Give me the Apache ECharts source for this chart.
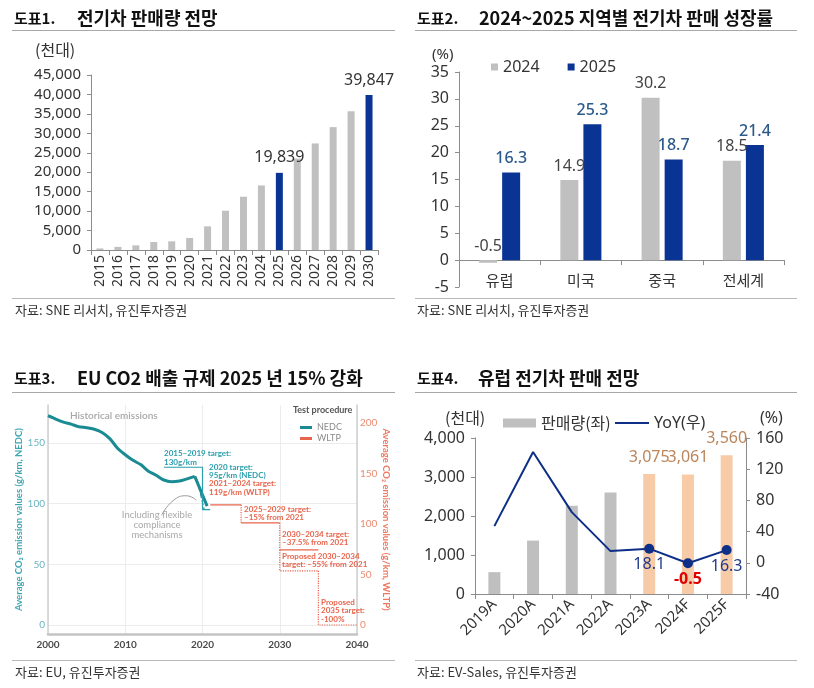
<!DOCTYPE html>
<html><head><meta charset="utf-8">
<script src="https://cdn.jsdelivr.net/npm/echarts@6/dist/echarts.min.js"></script>
<style>html,body{margin:0;padding:0;background:#fff}#c{width:814px;height:688px}</style>
</head><body><div id="c"></div>
<script>
// ---------- Panel 1: 전기차 판매량 전망 (천대)
const years = ['2015','2016','2017','2018','2019','2020','2021','2022','2023','2024','2025','2026','2027','2028','2029','2030'];
const evSales = [400, 800, 1200, 2050, 2230, 3100, 6080, 10100, 13700, 16600, 19839, 23500, 27400, 31600, 35700, 39847];
const evHighlight = ['2025', '2030'];

// ---------- Panel 2: 2024~2025 지역별 전기차 판매 성장률 (%)
const regions = ['유럽', '미국', '중국', '전세계'];
const growth2024 = [-0.5, 14.9, 30.2, 18.5];
const growth2025 = [16.3, 25.3, 18.7, 21.4];

// ---------- Panel 3: EU CO2 규제 (g/km)
const histYears = [2000,2001,2002,2003,2004,2005,2006,2007,2008,2009,2010,2011,2012,2013,2014,2015,2016,2017,2018,2019];
const histCO2 = [172.5,169.7,167.2,165.5,163.4,162.6,161.3,158.7,153.6,145.7,140.3,135.7,132.2,126.7,123.4,119.5,118.1,118.6,120.4,122.5];
const dropSegment = [[2019, 122.5], [2020.6, 98]];
const complianceSegment = [[2019.3, 120], [2020.2, 95.5]];
const nedcTarget = [[2015, 130], [2020, 130], [2020, 95], [2021, 95]];
const wltpSteps = [[2021, 2025, 119], [2025, 2030, 101.2], [2030, 2035, 74.4]];
const wltpProposed = [[2030, 2035, 53.6], [2035, 2040, 0]];
const arrowCurve = [[2014.7, 90.5], [2016.2, 102.5], [2017.9, 106.5], [2019.2, 103]];

// ---------- Panel 4: 유럽 전기차 판매 전망
const euCats = ['2019A', '2020A', '2021A', '2022A', '2023A', '2024F', '2025F'];
const euSales = [560, 1370, 2260, 2600, 3075, 3061, 3560];
const euYoY = [47, 142, 65, 15, 18.1, -0.5, 16.3];
const euHighlightFrom = '2023A';

const KR = '"Noto Sans CJK KR", sans-serif';
const NUM = '"Noto Sans", "Noto Sans CJK KR", sans-serif';
const EN3 = 'Lato, "Open Sans", sans-serif';
const GRAY = '#c0c0c0', BLUE = '#0a3494', TEAL = '#1a8b93', TEAL2 = '#2a9ead', RED = '#e8644c';
const fmt = v => Number(v).toLocaleString('en-US');

function T(x, y, text, font, fill, align) {
  return { type: 'text', x: x, y: y, z: 100, silent: true,
    style: { text: text, font: font, fill: fill, align: align || 'left', textAlign: align || 'left', verticalAlign: 'middle', textVerticalAlign: 'middle' } };
}
function L(x1, y1, x2, y2, c) {
  return { type: 'line', silent: true, shape: { x1: x1, y1: y1, x2: x2, y2: y2 }, style: { stroke: c || '#a8a8a8', lineWidth: 1 } };
}

const axisGray = '#8c8c8c';
const catAxisBase = {
  type: 'category', boundaryGap: true,
  axisLine: { show: true, lineStyle: { color: axisGray } },
  axisTick: { show: true, length: 5, lineStyle: { color: axisGray } },
  splitLine: { show: false }
};
const valAxisBase = {
  type: 'value',
  axisLine: { show: true, lineStyle: { color: axisGray } },
  axisTick: { show: true, length: 4, inside: false, lineStyle: { color: axisGray } },
  splitLine: { show: false }
};

const series = [];
// Panel 1
series.push({
  type: 'bar', name: '전기차판매량', xAxisIndex: 0, yAxisIndex: 0, barWidth: 7,
  data: evSales.map((v, i) => {
    const hi = evHighlight.includes(years[i]);
    return { value: v, itemStyle: { color: hi ? BLUE : GRAY }, label: { show: hi } };
  }),
  label: { position: 'top', distance: 7, fontSize: 16, color: '#333', fontFamily: NUM, formatter: p => fmt(p.value) }
});
// Panel 2
series.push({
  type: 'bar', name: '2024', xAxisIndex: 1, yAxisIndex: 1, barWidth: 18, barGap: '28%',
  itemStyle: { color: GRAY }, data: growth2024,
  label: { show: true, position: 'top', distance: 6, fontSize: 16, color: '#444', fontFamily: NUM }
});
series.push({
  type: 'bar', name: '2025', xAxisIndex: 1, yAxisIndex: 1, barWidth: 18, barGap: '28%',
  itemStyle: { color: BLUE }, data: growth2025,
  label: { show: true, position: 'top', distance: 6, fontSize: 16, color: '#2c5a8c', fontWeight: 500, fontFamily: NUM }
});
// Panel 3
const p3 = { xAxisIndex: 2, silent: true, symbol: 'none', animation: false };
series.push(Object.assign({ type: 'line', name: 'NEDC', yAxisIndex: 2, smooth: 0.3,
  data: histYears.map((y, i) => [y, histCO2[i]]), lineStyle: { color: TEAL, width: 3 }, itemStyle: { color: TEAL } }, p3));
series.push(Object.assign({ type: 'line', yAxisIndex: 2, data: dropSegment, lineStyle: { color: TEAL, width: 3 } }, p3));
series.push(Object.assign({ type: 'line', yAxisIndex: 2, data: complianceSegment, lineStyle: { color: TEAL, width: 1.2, type: 'dashed' } }, p3));
series.push(Object.assign({ type: 'line', yAxisIndex: 2, data: nedcTarget, lineStyle: { color: TEAL2, width: 1.2 } }, p3));
series.push(Object.assign({ type: 'line', yAxisIndex: 2, smooth: true, data: arrowCurve, lineStyle: { color: '#9a9a9a', width: 1 } }, p3));
wltpSteps.forEach((s, i) => {
  series.push(Object.assign({ type: 'line', name: i === 0 ? 'WLTP' : undefined, yAxisIndex: 3,
    data: [[s[0], s[2]], [s[1], s[2]]], lineStyle: { color: RED, width: 1.2 }, itemStyle: { color: RED } }, p3));
  if (i > 0) {
    const prev = wltpSteps[i - 1];
    series.push(Object.assign({ type: 'line', yAxisIndex: 3,
      data: [[s[0], prev[2]], [s[0], s[2]]], lineStyle: { color: RED, width: 1.2, type: 'dotted' } }, p3));
  }
});
wltpProposed.forEach((s, i) => {
  const prevVal = i === 0 ? wltpSteps[wltpSteps.length - 1][2] : wltpProposed[i - 1][2];
  series.push(Object.assign({ type: 'line', yAxisIndex: 3,
    data: [[s[0], prevVal], [s[0], s[2]], [s[1], s[2]]], lineStyle: { color: RED, width: 1.2, type: 'dotted' } }, p3));
});
// Panel 4
const hiIdx = euCats.indexOf(euHighlightFrom);
series.push({
  type: 'bar', name: '판매량(좌)', xAxisIndex: 3, yAxisIndex: 4, barWidth: 12,
  itemStyle: { color: '#bfbfbf' },
  data: euSales.map((v, i) => ({ value: v, itemStyle: { color: i >= hiIdx ? '#f8cba8' : '#bfbfbf' }, label: { show: i >= hiIdx } })),
  label: { position: 'top', distance: 9, fontSize: 16, color: '#bb865c', fontFamily: NUM, formatter: p => fmt(p.value) }
});
series.push({
  type: 'line', name: 'YoY(우)', xAxisIndex: 3, yAxisIndex: 5, z: 5,
  symbolSize: 10, lineStyle: { color: '#0d2f87', width: 2 }, itemStyle: { color: '#0d2f87' },
  data: euYoY.map((v, i) => ({ value: v, symbol: i >= hiIdx ? 'circle' : 'none',
    label: { show: i >= hiIdx, color: v < 0 ? '#e00000' : '#1f3a8a', fontWeight: v < 0 ? 'bold' : 'normal' } })),
  label: { position: 'bottom', distance: 3, fontSize: 16, fontFamily: NUM }
});

const option = {
  animation: false,
  backgroundColor: '#fff',
  textStyle: { fontFamily: NUM },
  grid: [
    { left: 91, top: 75, width: 287, height: 175 },
    { left: 459, top: 72, width: 325, height: 215 },
    { left: 48, top: 405, width: 309, height: 229 },
    { left: 475, top: 438, width: 271, height: 156 }
  ],
  legend: [
    { data: ['2024', '2025'], left: 486, top: 54, icon: 'rect', itemWidth: 7, itemHeight: 7, itemGap: 28,
      textStyle: { fontSize: 16, color: '#333', fontFamily: NUM }, selectedMode: false },
    { data: ['NEDC', 'WLTP'], orient: 'vertical', left: 295, top: 418, icon: 'rect', itemWidth: 12, itemHeight: 3, itemGap: 2,
      textStyle: { fontSize: 9, color: '#8a8a8a', fontFamily: EN3 }, selectedMode: false },
    { data: ['판매량(좌)'], left: 498, top: 410, icon: 'rect', itemWidth: 33, itemHeight: 9,
      textStyle: { fontSize: 16, color: '#333', fontFamily: KR }, selectedMode: false },
    { data: ['YoY(우)'], left: 610, top: 410, icon: 'rect', itemWidth: 34, itemHeight: 2,
      textStyle: { fontSize: 16, color: '#333', fontFamily: NUM }, selectedMode: false }
  ],
  xAxis: [
    Object.assign({}, catAxisBase, { gridIndex: 0, data: years,
      axisLabel: { rotate: 90, margin: 5, fontSize: 14, color: '#333', fontFamily: NUM, interval: 0 } }),
    Object.assign({}, catAxisBase, { gridIndex: 1, data: regions,
      axisLine: { show: true, onZero: true, lineStyle: { color: axisGray } },
      axisLabel: { show: false } }),
    { type: 'value', gridIndex: 2, min: 2000, max: 2040, interval: 10, offset: 0,
      axisLine: { show: true, onZero: false, lineStyle: { color: '#c4c4c4', width: 2.5 } },
      axisTick: { show: false },
      axisLabel: { fontSize: 10, fontWeight: 'bold', color: '#4a4a4a', fontFamily: EN3, margin: 6, formatter: v => String(v) },
      splitLine: { show: true, lineStyle: { color: '#ececec', width: 1 } } },
    Object.assign({}, catAxisBase, { gridIndex: 3, data: euCats,
      axisLabel: { rotate: 45, margin: 8, fontSize: 15, color: '#333', fontFamily: NUM, interval: 0 } }),
    // labels for panel 2 categories, sitting under the zero line
    { type: 'category', gridIndex: 1, data: regions, position: 'bottom', offset: -27,
      axisLine: { show: false, onZero: false }, axisTick: { show: false }, splitLine: { show: false },
      axisLabel: { margin: 13, fontSize: 15, color: '#333', fontFamily: KR } }
  ],
  yAxis: [
    Object.assign({}, valAxisBase, { gridIndex: 0, min: 0, max: 45000, interval: 5000,
      axisLabel: { fontSize: 15, color: '#333', margin: 10, fontFamily: NUM, formatter: v => fmt(v) } }),
    Object.assign({}, valAxisBase, { gridIndex: 1, min: -5, max: 35, interval: 5,
      axisLabel: { fontSize: 16, color: '#333', margin: 10, fontFamily: NUM } }),
    { type: 'value', gridIndex: 2, position: 'left', min: -7.42, max: 181.3, splitNumber: 4,
      name: 'Average CO\u2082 emission values (g/km, NEDC)', nameLocation: 'middle', nameGap: 22,
      nameTextStyle: { fontSize: 9.5, fontWeight: 'bold', color: '#3ea6b4', fontFamily: EN3 },
      axisLine: { show: true, lineStyle: { color: '#cfcfcf', width: 1.5 } }, axisTick: { show: false },
      axisLabel: { showMinLabel: false, showMaxLabel: false, fontSize: 10, color: '#6ab4c0', margin: 3, fontFamily: EN3 },
      splitLine: { show: true, showMinLine: false, showMaxLine: false, lineStyle: { color: '#ececec', width: 1 } } },
    { type: 'value', gridIndex: 2, position: 'right', min: -8.91, max: 217.8, splitNumber: 5,
      name: 'Average CO\u2082 emission values (g/km, WLTP)', nameLocation: 'middle', nameGap: 22, nameRotate: -90,
      nameTextStyle: { fontSize: 9.5, fontWeight: 'bold', color: '#ec7a62', fontFamily: EN3 },
      axisLine: { show: true, lineStyle: { color: '#cfcfcf', width: 1.5 } }, axisTick: { show: false },
      axisLabel: { showMinLabel: false, showMaxLabel: false, fontSize: 10, color: '#ec8c72', margin: 3, fontFamily: EN3 },
      splitLine: { show: false } },
    Object.assign({}, valAxisBase, { gridIndex: 3, min: 0, max: 4000, interval: 1000,
      axisLabel: { fontSize: 16, color: '#333', margin: 10, fontFamily: NUM, formatter: v => fmt(v) } }),
    Object.assign({}, valAxisBase, { gridIndex: 3, position: 'right', min: -40, max: 160, interval: 40,
      axisLabel: { fontSize: 16, color: '#333', margin: 10, fontFamily: NUM } })
  ],
  series: series,
  graphic: [
    // titles
    T(14, 18, '도표1.', 'bold 15px ' + KR, '#111'),
    T(77, 18, '전기차 판매량 전망', 'bold 18px ' + KR, '#111'),
    T(417, 18, '도표2.', 'bold 15px ' + KR, '#111'),
    T(479, 18, '2024~2025 지역별 전기차 판매 성장률', 'bold 18px ' + KR, '#111'),
    T(14, 378, '도표3.', 'bold 15px ' + KR, '#111'),
    T(77, 378, 'EU CO2 배출 규제 2025 년 15% 강화', 'bold 18px ' + KR, '#111'),
    T(417, 378, '도표4.', 'bold 15px ' + KR, '#111'),
    T(478, 378, '유럽 전기차 판매 전망', 'bold 18px ' + KR, '#111'),
    L(12, 30.5, 395, 30.5), L(415, 30.5, 797, 30.5), L(12, 392.5, 395, 392.5), L(415, 392.5, 797, 392.5),
    L(12, 298.5, 395, 298.5, '#b8b8b8'), L(415, 298.5, 797, 298.5, '#b8b8b8'),
    L(12, 660.5, 395, 660.5, '#b8b8b8'), L(415, 660.5, 797, 660.5, '#b8b8b8'),
    // sources
    T(15, 310, '자료: SNE 리서치, 유진투자증권', '13px ' + KR, '#333'),
    T(417, 310, '자료: SNE 리서치, 유진투자증권', '13px ' + KR, '#333'),
    T(15, 672, '자료: EU, 유진투자증권', '13px ' + KR, '#333'),
    T(417, 672, '자료: EV-Sales, 유진투자증권', '13px ' + KR, '#333'),
    // units
    T(35, 50, '(천대)', '16px ' + KR, '#333'),
    T(432, 55, '(%)', '15px ' + NUM, '#333'),
    T(445, 418, '(천대)', '16px ' + KR, '#333'),
    T(760, 418, '(%)', '16px ' + NUM, '#333'),
    // panel 3 annotations
    T(70, 416, 'Historical emissions', '600 10px ' + EN3, '#a8a8a8'),
    T(293, 410, 'Test procedure', 'bold 9px ' + EN3, '#555'),
    T(164, 453, '2015\u20132019 target:', 'bold 8px ' + EN3, TEAL2),
    T(164, 462, '130g/km', 'bold 8px ' + EN3, TEAL2),
    T(209, 467, '2020 target:', 'bold 8px ' + EN3, TEAL2),
    T(209, 475.5, '95g/km (NEDC)', 'bold 8px ' + EN3, TEAL2),
    T(209, 483.5, '2021\u20132024 target:', 'bold 8px ' + EN3, RED),
    T(209, 492, '119g/km (WLTP)', 'bold 8px ' + EN3, RED),
    T(244, 509, '2025\u20132029 target:', 'bold 8px ' + EN3, RED),
    T(244, 517.5, '\u201315% from 2021', 'bold 8px ' + EN3, RED),
    T(282, 534, '2030\u20132034 target:', 'bold 8px ' + EN3, RED),
    T(282, 542.5, '\u201337.5% from 2021', 'bold 8px ' + EN3, RED),
    T(282, 556, 'Proposed 2030\u20132034', 'bold 8px ' + EN3, RED),
    T(282, 564.5, 'target: \u201355% from 2021', 'bold 8px ' + EN3, RED),
    T(321, 602, 'Proposed', 'bold 8px ' + EN3, RED),
    T(321, 610.5, '2035 target:', 'bold 8px ' + EN3, RED),
    T(321, 619, '-100%', 'bold 8px ' + EN3, RED),
    T(157, 515, 'Including flexible', '9.5px ' + EN3, '#a8a8a8', 'center'),
    T(157, 525, 'compliance', '9.5px ' + EN3, '#a8a8a8', 'center'),
    T(157, 534.5, 'mechanisms', '9.5px ' + EN3, '#a8a8a8', 'center')
  ]
};
const chart = echarts.init(document.getElementById('c'), null, { renderer: 'canvas' });
chart.setOption(option);
</script></body></html>
